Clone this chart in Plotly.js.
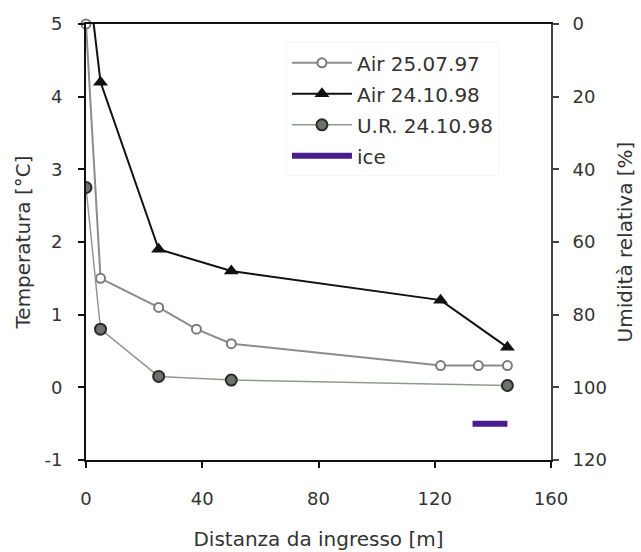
<!DOCTYPE html>
<html>
<head>
<meta charset="utf-8">
<script src="https://cdn.plot.ly/plotly-3.0.1.min.js"></script>
<style>html,body{margin:0;padding:0;background:#fff;}#chart{width:641px;height:552px;}</style>
</head>
<body>
<div id="chart"></div>
<script>
// Data
const distAir97 = [0, 5, 25, 38, 50, 122, 135, 145];
const tempAir97 = [5, 1.5, 1.1, 0.8, 0.6, 0.3, 0.3, 0.3];

const distAir98 = [0, 5, 25, 50, 122, 145];
const tempAir98 = [5.9, 4.2, 1.9, 1.6, 1.2, 0.55];

const distUR98 = [0, 5, 25, 50, 145];
const humUR98 = [45, 84, 97, 98, 99.5];

const distIce = [133, 145];
const tempIce = [-0.5, -0.5];

const xTicks = [0, 40, 80, 120, 160];
const yTicks = [-1, 0, 1, 2, 3, 4, 5];
const y2Ticks = [0, 20, 40, 60, 80, 100, 120];

const FONT = 'DejaVu Sans, Verdana, sans-serif';
const TXT = '#333333';

const traces = [
  {
    name: 'Air 25.07.97', legendgroup: 'a', x: distAir97, y: tempAir97, mode: 'lines+markers',
    cliponaxis: false,
    line: {color: '#8c8c8c', width: 2},
    marker: {symbol: 'circle', size: 9, color: '#ffffff', line: {color: '#7a7a7a', width: 2}}
  },
  {
    name: 'Air 24.10.98', legendgroup: 'b', x: distAir98, y: tempAir98, mode: 'lines+markers',
    line: {color: '#111111', width: 2},
    marker: {symbol: 'triangle-up', size: 13, color: '#111111'}
  },
  {
    name: 'U.R. 24.10.98', legendgroup: 'c', x: distUR98, y: humUR98, yaxis: 'y2', mode: 'lines+markers',
    line: {color: '#8f9a8f', width: 1.5},
    marker: {symbol: 'circle', size: 11, color: '#6e726e', line: {color: '#2a2a2a', width: 2}}
  },
  {
    name: 'ice', legendgroup: 'd', x: distIce, y: tempIce, mode: 'lines',
    line: {color: '#4a1d8e', width: 6}
  }
];

const layout = {
  width: 641, height: 552,
  margin: {l: 86, r: 90, t: 24, b: 92},
  paper_bgcolor: '#ffffff', plot_bgcolor: '#ffffff',
  font: {family: FONT, size: 18, color: TXT},
  showlegend: true,
  legend: {
    x: 0.43, y: 0.958, xanchor: 'left', yanchor: 'top',
    traceorder: 'grouped',
    bgcolor: 'rgba(255,255,255,0)', bordercolor: '#f6f6f6', borderwidth: 1,
    font: {family: FONT, size: 20, color: TXT},
    itemwidth: 60, tracegroupgap: 2
  },
  xaxis: {
    range: [0, 160], tickvals: xTicks, ticktext: xTicks.map(String),
    showgrid: false, zeroline: false,
    showline: true, linecolor: '#111111', linewidth: 2, mirror: true,
    ticks: 'outside', ticklen: 6, tickwidth: 2, tickcolor: '#111111',
    ticklabelstandoff: 15,
    title: {text: 'Distanza da ingresso [m]', standoff: 24, font: {family: FONT, size: 20, color: TXT}}
  },
  yaxis: {
    range: [-1, 5], tickvals: yTicks, ticktext: yTicks.map(String),
    showgrid: false, zeroline: false,
    showline: true, linecolor: '#111111', linewidth: 2,
    ticks: 'outside', ticklen: 6, tickwidth: 2, tickcolor: '#111111',
    ticklabelstandoff: 12,
    title: {text: 'Temperatura [°C]', standoff: 8, font: {family: FONT, size: 20, color: TXT}}
  },
  yaxis2: {
    overlaying: 'y', side: 'right', range: [120, 0],
    tickvals: y2Ticks, ticktext: y2Ticks.map(String),
    showgrid: false, zeroline: false,
    showline: true, linecolor: '#444444', linewidth: 2,
    ticks: 'outside', ticklen: 6, tickwidth: 2, tickcolor: '#444444',
    ticklabelstandoff: 10,
    title: {text: 'Umidità relativa [%]', standoff: 12, font: {family: FONT, size: 20, color: TXT}}
  }
};

Plotly.newPlot('chart', traces, layout, {displayModeBar: false, staticPlot: true});
</script>
</body>
</html>
